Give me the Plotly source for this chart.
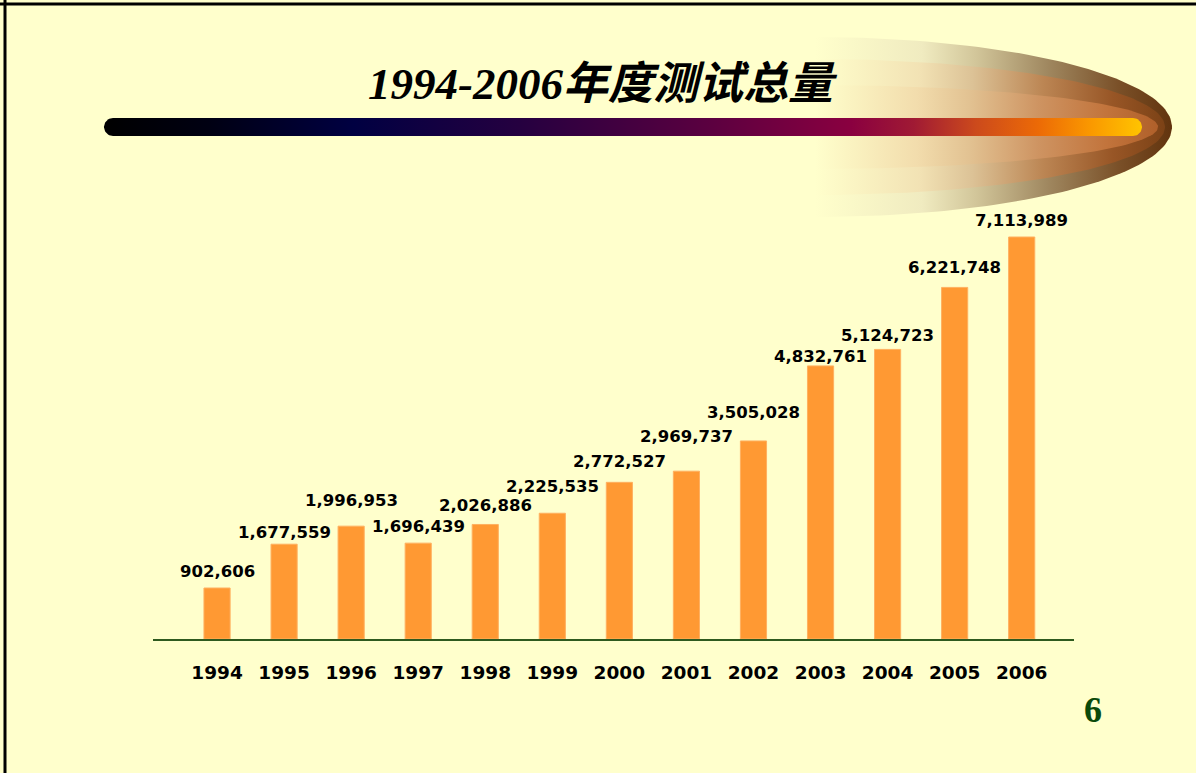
import numpy as np
import plotly.graph_objects as go

# ---------------- data ----------------
years = ["1994", "1995", "1996", "1997", "1998", "1999", "2000",
         "2001", "2002", "2003", "2004", "2005", "2006"]
totals = [902606, 1677559, 1996953, 1696439, 2026886, 2225535, 2772527,
          2969737, 3505028, 4832761, 5124723, 6221748, 7113989]
label_texts = ["902,606", "1,677,559", "1,996,953", "1,696,439", "2,026,886",
               "2,225,535", "2,772,527", "2,969,737", "3,505,028", "4,832,761",
               "5,124,723", "6,221,748", "7,113,989"]
title_text = "1994-2006年度测试总量"
page_number = "6"

# label vertical offsets above the bar tops (style, px)
label_offsets = [17, 12, 26, 17, 19, 27, 21, 35, 28, 9, 14, 20, 17]

W, H = 1196, 773
BG = "#FFFFCC"
positions = list(range(len(years)))

fig = go.Figure()

# ---------------- decorative overlay (pixel coordinates) ----------------
def half_ellipse(cx, cy, a, b, n=120):
    t = np.linspace(-np.pi / 2, np.pi / 2, n)
    xs = cx + a * np.cos(t)
    ys = cy + b * np.sin(t)
    return list(xs) + [xs[0]], list(ys) + [ys[0]]

glow_layers = [
    (815, 127, 357, 90, [[0, "#FFFFCC"], [0.3, "#F0EBC0"], [0.45, "#D2C69A"],
                         [0.65, "#A08860"], [0.85, "#7A5028"], [1, "#62340E"]]),
    (815, 127, 350, 68, [[0, "#FFFFCC"], [0.3, "#F2E2B4"], [0.45, "#DCC296"],
                         [0.65, "#BC8654"], [0.85, "#985626"], [1, "#7C4216"]]),
    (815, 127, 343, 42, [[0, "#FFFFCC"], [0.3, "#F2DCAC"], [0.45, "#E2C292"],
                         [0.65, "#CE9462"], [0.85, "#C2743C"], [1, "#B0602A"]]),
]
for cx, cy, a, b, cs in glow_layers:
    xs, ys = half_ellipse(cx, cy, a, b)
    fig.add_trace(go.Scatter(
        x=xs, y=ys, xaxis="x2", yaxis="y2", mode="lines",
        line=dict(width=0), fill="toself",
        fillgradient=dict(type="horizontal", colorscale=cs),
        hoverinfo="skip", showlegend=False))

# rounded gradient rule under the title
x0, x1, yc, r = 104, 1142, 127, 9
t = np.linspace(-np.pi / 2, np.pi / 2, 30)
rx = list(x1 - r + r * np.cos(t))
ry = list(yc + r * np.sin(t))
lx = list(x0 + r - r * np.cos(t))
ly = list(yc - r * np.sin(t))
bx = rx + lx + [rx[0]]
by = ry + ly + [ry[0]]
fig.add_trace(go.Scatter(
    x=bx, y=by, xaxis="x2", yaxis="y2", mode="lines",
    line=dict(width=0), fill="toself",
    fillgradient=dict(type="horizontal", colorscale=[
        [0, "#000000"], [0.1, "#000012"], [0.24, "#000042"], [0.4, "#250040"],
        [0.58, "#5A0040"], [0.72, "#8A0040"], [0.78, "#A01A34"], [0.84, "#CC4A1C"],
        [0.9, "#EC6A06"], [0.95, "#FA9800"], [1, "#FFC400"]]),
    hoverinfo="skip", showlegend=False))

# ---------------- bars ----------------
fig.add_trace(go.Bar(
    x=positions, y=totals, width=0.39,
    marker=dict(color="#FF9933", line=dict(color="#FFB060", width=1)),
    customdata=years, hovertemplate="%{customdata}: %{y:,}<extra></extra>",
    showlegend=False))

annotations = []
for i, v, txt, off in zip(positions, totals, label_texts, label_offsets):
    annotations.append(dict(
        x=i, y=v, xref="x", yref="y", text=txt, showarrow=False,
        xanchor="center", yanchor="middle", yshift=off,
        font=dict(family="DejaVu Sans", size=16.5, color="#000000", weight="bold")))

annotations.append(dict(
    x=603 / W, y=1 - 84 / H, xref="paper", yref="paper", text=title_text,
    showarrow=False, xanchor="center", yanchor="middle",
    font=dict(family="Liberation Serif, Noto Sans CJK SC", size=45,
              color="#000000", weight="bold", style="italic")))

annotations.append(dict(
    x=1093 / W, y=1 - 710 / H, xref="paper", yref="paper", text=page_number,
    showarrow=False, xanchor="center", yanchor="middle",
    font=dict(family="Liberation Serif", size=36, color="#0A4A0A", weight="bold")))

plot_left, plot_right, plot_top, plot_bottom = 153, 1074, 200, 639
px_per_unit = (639 - 237) / 7113989.0
ymax = (plot_bottom - plot_top) / px_per_unit

fig.update_layout(
    width=W, height=H,
    margin=dict(l=0, r=0, t=0, b=0),
    paper_bgcolor=BG, plot_bgcolor="rgba(0,0,0,0)",
    annotations=annotations,
    xaxis=dict(
        domain=[plot_left / W, plot_right / W],
        range=[-0.955, 12.78], showgrid=False, zeroline=False,
        tickmode="array", tickvals=positions, ticktext=years,
        showline=True, linecolor="#2E5A1E", linewidth=2, ticks="",
        ticklabelstandoff=16,
        tickfont=dict(family="DejaVu Sans", size=18.5, color="#000000", weight="bold"),
        fixedrange=True),
    yaxis=dict(
        domain=[1 - plot_bottom / H, 1 - plot_top / H], range=[0, ymax],
        visible=False, showgrid=False, zeroline=False, fixedrange=True),
    xaxis2=dict(domain=[0, 1], range=[0, W], visible=False, anchor="y2",
                fixedrange=True),
    yaxis2=dict(domain=[0, 1], range=[H, 0], visible=False, anchor="x2",
                fixedrange=True),
    shapes=[
        dict(type="line", xref="paper", yref="paper", x0=0, x1=1,
             y0=1 - 4 / H, y1=1 - 4 / H, line=dict(color="#000000", width=3)),
        dict(type="line", xref="paper", yref="paper", x0=5 / W, x1=5 / W,
             y0=0, y1=1, line=dict(color="#000000", width=3)),
    ],
)

fig.write_html("out.html", config={"displayModeBar": False},
               post_script="document.body.style.margin='0';")
